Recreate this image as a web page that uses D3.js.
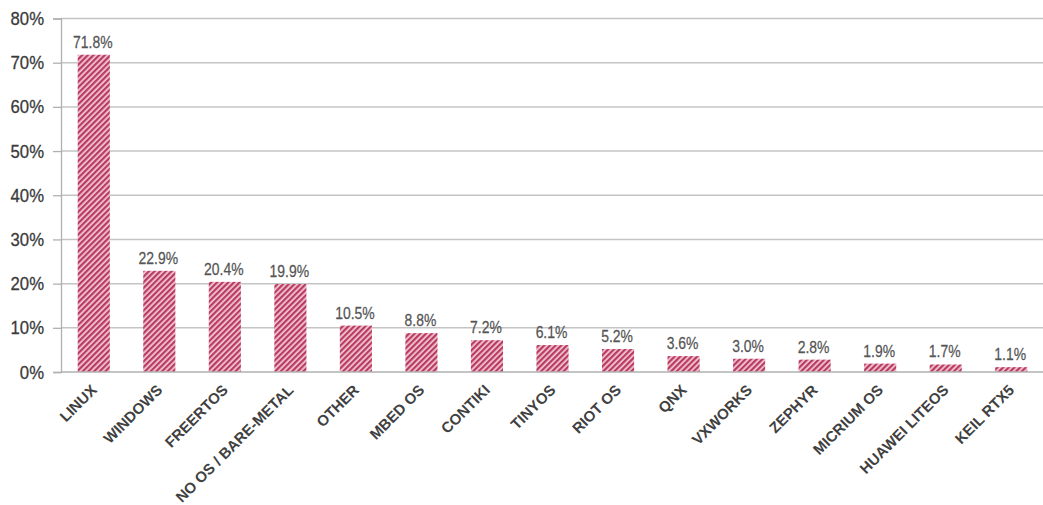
<!DOCTYPE html>
<html>
<head>
<meta charset="utf-8">
<script src="https://cdnjs.cloudflare.com/ajax/libs/d3/7.8.5/d3.min.js"></script>
<style>
  html, body { margin: 0; padding: 0; background: #fff; }
  svg { display: block; }
</style>
</head>
<body>
<script>
var width = 1043, height = 505;

// chart data
var osNames = ["LINUX", "WINDOWS", "FREERTOS", "NO OS / BARE-METAL", "OTHER", "MBED OS", "CONTIKI",
    "TINYOS", "RIOT OS", "QNX", "VXWORKS", "ZEPHYR", "MICRIUM OS", "HUAWEI LITEOS", "KEIL RTX5"];
var shares = [71.8, 22.9, 20.4, 19.9, 10.5, 8.8, 7.2, 6.1, 5.2, 3.6, 3.0, 2.8, 1.9, 1.7, 1.1];
var yTicks = [0, 10, 20, 30, 40, 50, 60, 70, 80];

var svg = d3.select("body")
    .append("svg")
    .attr("width", width)
    .attr("height", height);

// hatch fill
var pat = svg.append("defs").append("pattern")
    .attr("id", "hatch")
    .attr("patternUnits", "userSpaceOnUse")
    .attr("width", 4)
    .attr("height", 4)
    .attr("patternTransform", "rotate(45)");
pat.append("rect").attr("width", 4).attr("height", 4).attr("fill", "#f4cdd8");
pat.append("rect").attr("width", 2.3).attr("height", 4).attr("fill", "#b93b62");

var x = d3.scaleBand()
    .domain(osNames)
    .range([61, 1044])
    .paddingInner(0.51)
    .paddingOuter(0.255);

var y = d3.scaleLinear()
    .domain([0, 80])
    .range([372, 18.5]);

// gridlines
svg.append("g")
    .selectAll("line")
    .data(yTicks.filter(function (d) { return d > 0; }))
    .enter().append("line")
    .attr("x1", 61).attr("x2", width)
    .attr("y1", function (d) { return y(d); })
    .attr("y2", function (d) { return y(d); })
    .attr("stroke", "#c4c4c4")
    .attr("stroke-width", 1.5);

// y axis
var yAxis = svg.append("g")
    .attr("transform", "translate(61,0)")
    .call(d3.axisLeft(y).tickValues(yTicks).tickSize(8).tickPadding(0)
        .tickFormat(function (d) { return d + "%"; }));
yAxis.select(".domain").attr("stroke", "#b0b0b0").attr("stroke-width", 1.3);
yAxis.selectAll(".tick line").attr("stroke", "#b0b0b0").attr("stroke-width", 1.3);
yAxis.selectAll(".tick text")
    .attr("x", null)
    .attr("transform", "translate(-17,0) scale(0.88,1)")
    .attr("fill", "#3a3a3a")
    .attr("stroke", "#3a3a3a")
    .attr("stroke-width", 0.3)
    .style("font-family", "'Liberation Sans', Arial, sans-serif")
    .style("font-size", "19px");

// bars
svg.append("g")
    .selectAll("rect")
    .data(shares)
    .enter().append("rect")
    .attr("x", function (d, i) { return x(osNames[i]); })
    .attr("width", x.bandwidth())
    .attr("y", function (d) { return y(d); })
    .attr("height", function (d) { return y(0) - y(d); })
    .attr("fill", "url(#hatch)");

// x axis baseline
svg.append("line")
    .attr("x1", 61).attr("x2", width)
    .attr("y1", y(0)).attr("y2", y(0))
    .attr("stroke", "#b0b0b0")
    .attr("stroke-width", 1.5);

// value labels
svg.append("g")
    .selectAll("text")
    .data(shares)
    .enter().append("text")
    .attr("transform", function (d, i) {
        return "translate(" + (x(osNames[i]) + x.bandwidth() / 2 - 1) + "," + (y(d) - 7) + ") scale(0.82,1)";
    })
    .attr("text-anchor", "middle")
    .attr("fill", "#555")
    .attr("stroke", "#555")
    .attr("stroke-width", 0.25)
    .style("font-family", "'Liberation Sans', Arial, sans-serif")
    .style("font-size", "17px")
    .text(function (d) { return d.toFixed(1) + "%"; });

// category labels
svg.append("g")
    .selectAll("text")
    .data(osNames)
    .enter().append("text")
    .attr("transform", function (d) {
        return "translate(" + (x(d) + x.bandwidth() / 2 + 4) + "," + (y(0) + 19) + ") rotate(-45)";
    })
    .attr("text-anchor", "end")
    .attr("fill", "#404040")
    .style("font-family", "'Liberation Sans', Arial, sans-serif")
    .style("font-weight", "bold")
    .style("font-size", "15px")
    .text(function (d) { return d; });
</script>
</body>
</html>
